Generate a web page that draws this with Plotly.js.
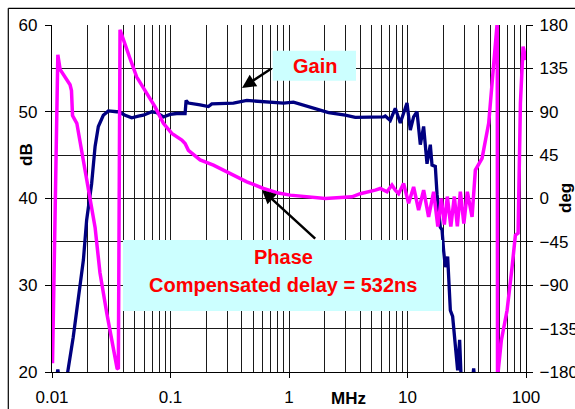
<!DOCTYPE html>
<html>
<head>
<meta charset="utf-8">
<script src="https://cdn.plot.ly/plotly-3.0.1.min.js"></script>
<style>
html,body{margin:0;padding:0;background:#fff;}
#chart{width:575px;height:409px;}
</style>
</head>
<body>
<div id="chart"></div>
<script>
// ---- data (frequency in MHz) ----
const gainFreq = [
  0.0106, 0.0112, 0.0118, 0.0135, 0.0151, 0.0167, 0.0184, 0.0196, 0.0216, 0.0231,
  0.0246, 0.0271, 0.0299, 0.0352, 0.0363, 0.0414, 0.0456, 0.0471, 0.0536, 0.0590,
  0.0695, 0.0766, 0.0871, 0.0992, 0.113, 0.1328, 0.1354, 0.1416, 0.1778, 0.2089,
  0.2233, 0.3398, 0.4409, 0.6089, 0.8985, 1.09, 1.285, 1.665, 2.156, 2.984,
  3.624, 6.284, 6.494, 7.155, 7.889, 8.694, 9.581, 9.904, 10.56, 11.26,
  12.03, 12.83, 13.68, 14.61, 15.58, 16.10, 17.17, 17.75, 18.92, 19.56,
  20.18, 20.86, 21.82, 22.99, 24.04, 25.33, 26.49, 27.54, 28.30, 29.77,
  35.0, 36.17, 37.4
];
const gainDb = [
  18, 20.3, 18, 19.8, 24, 28.3, 32.9, 37.5, 41.7, 46,
  48.3, 49.6, 50.1, 50.0, 50.0, 49.6, 49.35, 49.3, 49.5, 49.6,
  50.0, 49.9, 49.4, 49.7, 49.8, 49.8, 51.3, 51.0, 50.8, 50.6,
  50.9, 51.0, 51.3, 51.2, 51.0, 51.1, 50.8, 50.4, 49.9, 49.6,
  49.35, 49.4, 49.5, 49.0, 50.4, 48.7, 50.4, 51.0, 47.9, 49.4,
  50.0, 46.2, 48.3, 44.0, 46.2, 43.85, 43.7, 40.5, 36.7, 36.4,
  34.0, 32.1, 33.3, 27.1, 26.4, 22.5, 20.2, 23.7, 19.5, 18.0,
  18.5, 20.4, 18.5
];
const phaseFreq = [
  0.0101, 0.0112, 0.0117, 0.0129, 0.0142, 0.0146, 0.0149, 0.0162, 0.0172, 0.0190,
  0.0231, 0.0254, 0.0290, 0.0354, 0.0363, 0.0375, 0.0414, 0.0456, 0.0519, 0.0631,
  0.0741, 0.0871, 0.1026, 0.1246, 0.1328, 0.1416, 0.1778, 0.2303, 0.3187, 0.4409,
  0.6089, 0.7902, 1.024, 1.370, 2.022, 3.398, 3.995, 5.346, 5.893, 6.713,
  7.396, 7.889, 8.41, 9.27, 10.22, 11.26, 12.41, 13.68, 15.07, 16.61,
  18.03, 19.30, 20.46, 21.68, 23.21, 24.85, 26.34, 27.92, 29.89, 32.0,
  35.06, 37.38, 41.20, 42.58, 48.42, 53.36, 55.15, 57.2, 57.5, 58.3,
  61.97, 69.25, 76.32, 81.39, 85.77, 89.70, 94.52, 100
];
const phaseDeg = [
  -171, 149, 134, 126, 118, 112, 86, 78, 59, 29,
  -30, -77, -119, -176, -177, 175, 161, 145, 126, 109,
  95, 78, 67.5, 60.6, 57, 50, 40, 34.6, 26, 17.3,
  10.4, 6, 3.5, 1.7, 0, 1.7, 5, 8.7, 10.4, 7,
  14, 8.7, 5, 15.6, -5, 12, -12, 8.7, -19, 7,
  -29, 0, -27, 2, -29, 2, -29, 7, -26, 7,
  -19, 29.5, 38, 41.6, 78, 143.7, 168, 183, -183, -179,
  -147, -116, -71, -38, -36, 98.7, 157.5, 143.7
];
const xTickVals = [0.01, 0.1, 1, 10, 100];
const xTickText = ['0.01', '0.1', '1', '10', '100'];
const dbTicks = [20, 30, 40, 50, 60];
const degTicks = [-180, -135, -90, -45, 0, 45, 90, 135, 180];
const gainLabel = 'Gain';
const phaseLabel = 'Phase';
const delayLabel = 'Compensated delay = 532ns';

// ---- layout helpers: pixel -> paper ----
const L = 52, R = 49, T = 25, B = 37, W = 575, H = 409;
const pw = W - L - R, ph = H - T - B;
const PX = x => (x - L) / pw;
const PY = y => (H - B - y) / ph;

const FONT = '"Liberation Sans", Arial, sans-serif';

const traces = [
  {x: gainFreq, y: gainDb, type: 'scatter', mode: 'lines', name: 'Gain',
   line: {color: '#000080', width: 3.3}, xaxis: 'x', yaxis: 'y', hoverinfo: 'skip'},
  {x: phaseFreq, y: phaseDeg, type: 'scatter', mode: 'lines', name: 'Phase',
   line: {color: '#FF00FF', width: 3.5}, xaxis: 'x', yaxis: 'y2', hoverinfo: 'skip'}
];

const gridC = '#1a1a1a';
const layout = {
  width: W, height: H,
  margin: {l: L, r: R, t: T, b: B, pad: 0},
  paper_bgcolor: '#fff', plot_bgcolor: '#fff',
  showlegend: false,
  font: {family: FONT, size: 17, color: '#000'},
  xaxis: {
    type: 'log', range: [-2, 2],
    tickmode: 'array', tickvals: xTickVals, ticktext: xTickText,
    ticks: 'outside', ticklen: 5, tickwidth: 1, tickcolor: '#000',
    ticklabelstandoff: 4,
    showgrid: true, gridcolor: gridC, gridwidth: 1,
    minor: {dtick: 'D1', showgrid: true, gridcolor: gridC, gridwidth: 1, ticks: ''},
    showline: true, linecolor: '#000', linewidth: 1.2,
    zeroline: false, tickfont: {size: 17, family: FONT}
  },
  yaxis: {
    range: [20, 60], tickmode: 'array', tickvals: dbTicks,
    ticks: 'outside', ticklen: 6, tickwidth: 1, tickcolor: '#000',
    ticklabelstandoff: 4,
    showgrid: true, gridcolor: gridC, gridwidth: 1,
    minor: {dtick: 5, showgrid: true, gridcolor: gridC, gridwidth: 1, ticks: ''},
    showline: true, linecolor: '#000', linewidth: 1.2,
    zeroline: false, tickfont: {size: 17, family: FONT}
  },
  yaxis2: {
    overlaying: 'y', side: 'right', range: [-180, 180],
    tickmode: 'array', tickvals: degTicks,
    ticks: 'outside', ticklen: 6, tickwidth: 1, tickcolor: '#000',
    ticklabelstandoff: 3,
    showgrid: false, showline: true, linecolor: '#000', linewidth: 1.2,
    zeroline: false, tickfont: {size: 17, family: FONT}
  },
  shapes: [
    // outer frame (left and top visible)
    {type: 'line', xref: 'paper', yref: 'paper', x0: PX(8.3), x1: PX(8.3), y0: PY(8.3), y1: PY(430),
     line: {color: '#000', width: 1.2}},
    {type: 'line', xref: 'paper', yref: 'paper', x0: PX(8.3), x1: PX(600), y0: PY(8.3), y1: PY(8.3),
     line: {color: '#000', width: 1.2}},
    // label boxes
    {type: 'rect', xref: 'paper', yref: 'paper', layer: 'above',
     x0: PX(272.7), x1: PX(356), y0: PY(80.7), y1: PY(50.7),
     fillcolor: '#CCFFFF', line: {width: 0}},
    {type: 'rect', xref: 'paper', yref: 'paper', layer: 'above',
     x0: PX(123), x1: PX(442), y0: PY(311), y1: PY(240),
     fillcolor: '#CCFFFF', line: {width: 0}}
  ],
  annotations: [
    {xref: 'paper', yref: 'paper', x: PX(315), y: PY(66), text: '<b>' + gainLabel + '</b>',
     showarrow: false, xanchor: 'center', yanchor: 'middle', font: {size: 20, color: '#FF0000', family: FONT}},
    {xref: 'paper', yref: 'paper', x: PX(283), y: PY(257), text: '<b>' + phaseLabel + '</b>',
     showarrow: false, xanchor: 'center', yanchor: 'middle', font: {size: 20, color: '#FF0000', family: FONT}},
    {xref: 'paper', yref: 'paper', x: PX(282.5), y: PY(285), text: '<b>' + delayLabel + '</b>',
     showarrow: false, xanchor: 'center', yanchor: 'middle', font: {size: 20, color: '#FF0000', family: FONT}},
    // arrows
    {xref: 'paper', yref: 'paper', x: PX(242), y: PY(88), text: '', showarrow: true,
     axref: 'pixel', ayref: 'pixel', ax: 31, ay: -20.5,
     arrowhead: 2, arrowsize: 1.1, arrowwidth: 2.5, arrowcolor: '#000', standoff: 0, startstandoff: 0},
    {xref: 'paper', yref: 'paper', x: PX(262), y: PY(190), text: '', showarrow: true,
     axref: 'pixel', ayref: 'pixel', ax: 54.7, ay: 50,
     arrowhead: 2, arrowsize: 1.1, arrowwidth: 2.5, arrowcolor: '#000', standoff: 0, startstandoff: 0},
    // axis titles
    {xref: 'paper', yref: 'paper', x: PX(26), y: PY(155), text: '<b>dB</b>', textangle: -90,
     showarrow: false, xanchor: 'center', yanchor: 'middle', font: {size: 17, family: FONT, color: '#000'}},
    {xref: 'paper', yref: 'paper', x: PX(565), y: PY(198), text: '<b>deg</b>', textangle: -90,
     showarrow: false, xanchor: 'center', yanchor: 'middle', font: {size: 17, family: FONT, color: '#000'}},
    {xref: 'paper', yref: 'paper', x: PX(348), y: PY(398), text: '<b>MHz</b>',
     showarrow: false, xanchor: 'center', yanchor: 'middle', font: {size: 17, family: FONT, color: '#000'}}
  ]
};

Plotly.newPlot('chart', traces, layout, {staticPlot: true, displayModeBar: false});
</script>
</body>
</html>
